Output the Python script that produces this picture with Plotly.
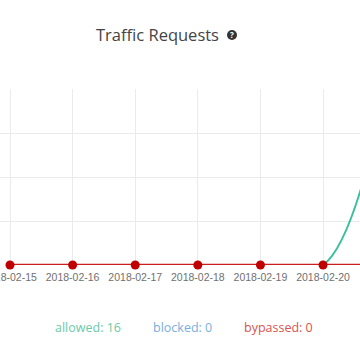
import plotly.graph_objects as go

dates = ["2018-02-15", "2018-02-16", "2018-02-17", "2018-02-18",
         "2018-02-19", "2018-02-20", "2018-02-21"]
allowed = [0, 0, 0, 0, 0, 0, 16]
blocked = [0, 0, 0, 0, 0, 0, 0]
bypassed = [0, 0, 0, 0, 0, 0, 0]
tick_dates = dates[:6]
legend_labels = ["allowed: 16", "blocked: 0", "bypassed: 0"]
title_text = "Traffic Requests"

W, H = 360, 360
L, R, T, B = 0, 0, 89, 95
ph = H - T - B

fig = go.Figure()
fig.add_trace(go.Scatter(x=dates, y=allowed, mode="lines",
                         line=dict(color="#3cbf9c", width=2, shape="spline"),
                         cliponaxis=False, name="allowed"))
fig.add_trace(go.Scatter(x=dates, y=blocked, mode="lines",
                         line=dict(color="#6fa8dc", width=2, shape="spline"),
                         cliponaxis=False, name="blocked"))
fig.add_trace(go.Scatter(x=dates, y=bypassed, mode="lines+markers",
                         line=dict(color="#c81e1e", width=2.5, shape="spline"),
                         marker=dict(color="#c00000", size=9),
                         cliponaxis=False, name="bypassed"))

def px(x):
    return (x - L) / (W - L - R)

def py(y):
    return (H - B - y) / ph

fig.add_annotation(text=title_text, x=px(157), y=py(34), xref="paper", yref="paper",
                   showarrow=False, xanchor="center", yanchor="middle",
                   font=dict(family="Open Sans", size=16.5, color="#444444"))
fig.add_shape(type="circle", xref="paper", yref="paper",
              x0=px(227), x1=px(237), y0=py(40), y1=py(30),
              fillcolor="#333333", line=dict(width=0))
fig.add_annotation(text="<b>?</b>", x=px(232), y=py(35), xref="paper", yref="paper",
                   showarrow=False, xanchor="center", yanchor="middle",
                   font=dict(family="Open Sans", size=8, color="white"))

leg_colors = ["#6cc9a8", "#7aaee0", "#d9534f"]
leg_x = [88, 182, 278]
for t, c, x in zip(legend_labels, leg_colors, leg_x):
    fig.add_annotation(text=t, x=px(x), y=py(327), xref="paper", yref="paper",
                       showarrow=False, xanchor="center", yanchor="middle",
                       font=dict(family="Open Sans", size=12.5, color=c))

fig.update_layout(
    width=W, height=H,
    margin=dict(l=L, r=R, t=T, b=B, autoexpand=False),
    paper_bgcolor="white", plot_bgcolor="white",
    showlegend=False,
    xaxis=dict(type="date", range=["2018-02-14 20:10", "2018-02-20 14:10"],
               tickvals=tick_dates, ticktext=tick_dates, showgrid=True, gridcolor="#ebebeb",
               zeroline=False, showline=False, automargin=False,
               ticklabeloverflow="allow", ticklabelstandoff=4,
               tickfont=dict(family="Liberation Sans", size=10.5, color="#707070")),
    yaxis=dict(range=[0, 16], dtick=4, showgrid=True, gridcolor="#ebebeb",
               zeroline=False, showticklabels=False, showline=False, automargin=False),
)

fig.write_html("out.html", config={"displayModeBar": False},
               post_script="document.body.style.margin='0';document.body.style.overflow='hidden';")
